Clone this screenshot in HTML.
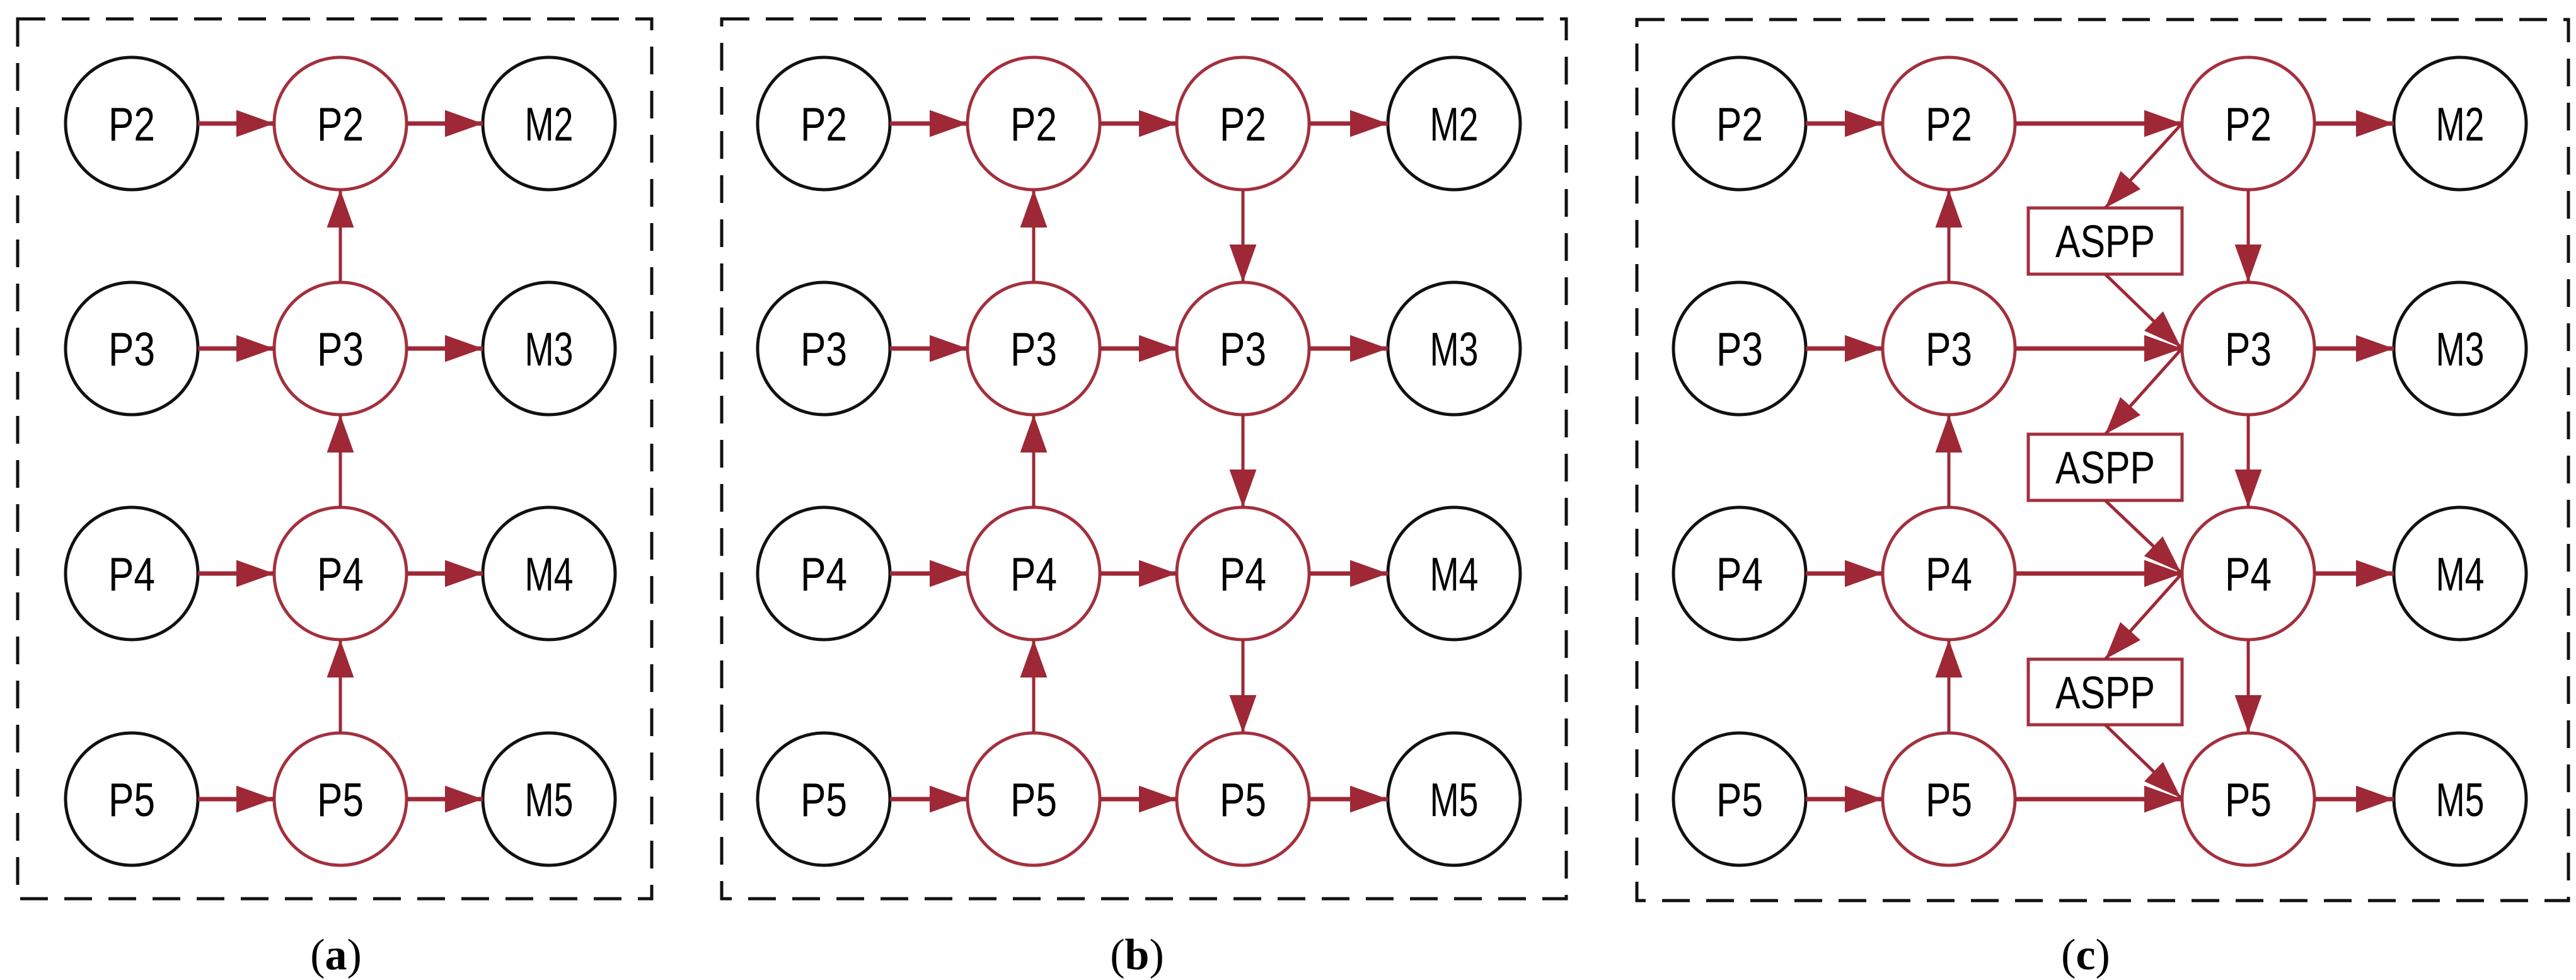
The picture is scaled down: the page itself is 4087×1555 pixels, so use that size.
<!DOCTYPE html>
<html><head><meta charset="utf-8"><style>html,body{margin:0;padding:0;background:#fff}svg{display:block}</style></head>
<body>
<svg width="4087" height="1555" viewBox="0 0 4087 1555" xmlns="http://www.w3.org/2000/svg">
<defs>
<marker id="ah" markerUnits="userSpaceOnUse" markerWidth="60" markerHeight="44" viewBox="0 0 56 40" refX="56" refY="20" orient="auto">
<path d="M0,0 L56,20 L0,40 Z" fill="#9e2836"/>
</marker>
</defs>
<g fill="none" stroke="#111" stroke-width="5" stroke-dasharray="44 26">
<rect x="28" y="30" width="1006" height="1396"/>
<rect x="1145" y="30" width="1340" height="1396"/>
<rect x="2597" y="31" width="1478" height="1398"/>
</g>
<g fill="#fff" stroke-width="5">
<g stroke="#111">
<circle cx="209" cy="196" r="105"/><circle cx="209" cy="553" r="105"/><circle cx="209" cy="910" r="105"/><circle cx="209" cy="1268" r="105"/>
<circle cx="871" cy="196" r="105"/><circle cx="871" cy="553" r="105"/><circle cx="871" cy="910" r="105"/><circle cx="871" cy="1268" r="105"/>
<circle cx="1307" cy="196" r="105"/><circle cx="1307" cy="553" r="105"/><circle cx="1307" cy="910" r="105"/><circle cx="1307" cy="1268" r="105"/>
<circle cx="2307" cy="196" r="105"/><circle cx="2307" cy="553" r="105"/><circle cx="2307" cy="910" r="105"/><circle cx="2307" cy="1268" r="105"/>
<circle cx="2760" cy="196" r="105"/><circle cx="2760" cy="553" r="105"/><circle cx="2760" cy="910" r="105"/><circle cx="2760" cy="1268" r="105"/>
<circle cx="3903" cy="196" r="105"/><circle cx="3903" cy="553" r="105"/><circle cx="3903" cy="910" r="105"/><circle cx="3903" cy="1268" r="105"/>
</g>
<g stroke="#a3303e">
<circle cx="540" cy="196" r="105"/><circle cx="540" cy="553" r="105"/><circle cx="540" cy="910" r="105"/><circle cx="540" cy="1268" r="105"/>
<circle cx="1640" cy="196" r="105"/><circle cx="1640" cy="553" r="105"/><circle cx="1640" cy="910" r="105"/><circle cx="1640" cy="1268" r="105"/>
<circle cx="1972" cy="196" r="105"/><circle cx="1972" cy="553" r="105"/><circle cx="1972" cy="910" r="105"/><circle cx="1972" cy="1268" r="105"/>
<circle cx="3092" cy="196" r="105"/><circle cx="3092" cy="553" r="105"/><circle cx="3092" cy="910" r="105"/><circle cx="3092" cy="1268" r="105"/>
<circle cx="3567" cy="196" r="105"/><circle cx="3567" cy="553" r="105"/><circle cx="3567" cy="910" r="105"/><circle cx="3567" cy="1268" r="105"/>
<rect x="3218" y="330" width="244" height="105"/>
<rect x="3218" y="689" width="244" height="105"/>
<rect x="3218" y="1046" width="244" height="104"/>
</g>
</g>
<g stroke="#9e2836" stroke-width="7" marker-end="url(#ah)">
<line x1="314" y1="196" x2="435" y2="196"/><line x1="645" y1="196" x2="766" y2="196"/>
<line x1="314" y1="553" x2="435" y2="553"/><line x1="645" y1="553" x2="766" y2="553"/>
<line x1="314" y1="910" x2="435" y2="910"/><line x1="645" y1="910" x2="766" y2="910"/>
<line x1="314" y1="1268" x2="435" y2="1268"/><line x1="645" y1="1268" x2="766" y2="1268"/>
<line x1="1412" y1="196" x2="1535" y2="196"/><line x1="1745" y1="196" x2="1867" y2="196"/><line x1="2077" y1="196" x2="2202" y2="196"/>
<line x1="1412" y1="553" x2="1535" y2="553"/><line x1="1745" y1="553" x2="1867" y2="553"/><line x1="2077" y1="553" x2="2202" y2="553"/>
<line x1="1412" y1="910" x2="1535" y2="910"/><line x1="1745" y1="910" x2="1867" y2="910"/><line x1="2077" y1="910" x2="2202" y2="910"/>
<line x1="1412" y1="1268" x2="1535" y2="1268"/><line x1="1745" y1="1268" x2="1867" y2="1268"/><line x1="2077" y1="1268" x2="2202" y2="1268"/>
<line x1="2865" y1="196" x2="2987" y2="196"/><line x1="3197" y1="196" x2="3462" y2="196"/><line x1="3672" y1="196" x2="3798" y2="196"/>
<line x1="2865" y1="553" x2="2987" y2="553"/><line x1="3197" y1="553" x2="3462" y2="553"/><line x1="3672" y1="553" x2="3798" y2="553"/>
<line x1="2865" y1="910" x2="2987" y2="910"/><line x1="3197" y1="910" x2="3462" y2="910"/><line x1="3672" y1="910" x2="3798" y2="910"/>
<line x1="2865" y1="1268" x2="2987" y2="1268"/><line x1="3197" y1="1268" x2="3462" y2="1268"/><line x1="3672" y1="1268" x2="3798" y2="1268"/>
</g>
<g stroke="#9e2836" stroke-width="5" marker-end="url(#ah)">
<line x1="540" y1="1163" x2="540" y2="1015"/><line x1="540" y1="805" x2="540" y2="658"/><line x1="540" y1="448" x2="540" y2="301"/>
<line x1="1640" y1="1163" x2="1640" y2="1015"/><line x1="1640" y1="805" x2="1640" y2="658"/><line x1="1640" y1="448" x2="1640" y2="301"/>
<line x1="1972" y1="301" x2="1972" y2="448"/><line x1="1972" y1="658" x2="1972" y2="805"/><line x1="1972" y1="1015" x2="1972" y2="1163"/>
<line x1="3092" y1="1163" x2="3092" y2="1015"/><line x1="3092" y1="805" x2="3092" y2="658"/><line x1="3092" y1="448" x2="3092" y2="301"/>
<line x1="3567" y1="301" x2="3567" y2="448"/><line x1="3567" y1="658" x2="3567" y2="805"/><line x1="3567" y1="1015" x2="3567" y2="1163"/>
<line x1="3460" y1="198" x2="3340" y2="330"/><line x1="3340" y1="435" x2="3460" y2="551"/>
<line x1="3460" y1="555" x2="3340" y2="689"/><line x1="3340" y1="794" x2="3460" y2="908"/>
<line x1="3460" y1="912" x2="3340" y2="1046"/><line x1="3340" y1="1150" x2="3460" y2="1266"/>
</g>
<g font-family="'Liberation Sans Narrow','Liberation Sans',sans-serif" font-size="75" text-anchor="middle" fill="#000" lengthAdjust="spacingAndGlyphs">
<text x="209" y="223" textLength="74" lengthAdjust="spacingAndGlyphs">P2</text><text x="540" y="223" textLength="74" lengthAdjust="spacingAndGlyphs">P2</text><text x="871" y="223" textLength="77" lengthAdjust="spacingAndGlyphs">M2</text>
<text x="209" y="580" textLength="74" lengthAdjust="spacingAndGlyphs">P3</text><text x="540" y="580" textLength="74" lengthAdjust="spacingAndGlyphs">P3</text><text x="871" y="580" textLength="77" lengthAdjust="spacingAndGlyphs">M3</text>
<text x="209" y="937" textLength="74" lengthAdjust="spacingAndGlyphs">P4</text><text x="540" y="937" textLength="74" lengthAdjust="spacingAndGlyphs">P4</text><text x="871" y="937" textLength="77" lengthAdjust="spacingAndGlyphs">M4</text>
<text x="209" y="1295" textLength="74" lengthAdjust="spacingAndGlyphs">P5</text><text x="540" y="1295" textLength="74" lengthAdjust="spacingAndGlyphs">P5</text><text x="871" y="1295" textLength="77" lengthAdjust="spacingAndGlyphs">M5</text>
<text x="1307" y="223" textLength="74" lengthAdjust="spacingAndGlyphs">P2</text><text x="1640" y="223" textLength="74" lengthAdjust="spacingAndGlyphs">P2</text><text x="1972" y="223" textLength="74" lengthAdjust="spacingAndGlyphs">P2</text><text x="2307" y="223" textLength="77" lengthAdjust="spacingAndGlyphs">M2</text>
<text x="1307" y="580" textLength="74" lengthAdjust="spacingAndGlyphs">P3</text><text x="1640" y="580" textLength="74" lengthAdjust="spacingAndGlyphs">P3</text><text x="1972" y="580" textLength="74" lengthAdjust="spacingAndGlyphs">P3</text><text x="2307" y="580" textLength="77" lengthAdjust="spacingAndGlyphs">M3</text>
<text x="1307" y="937" textLength="74" lengthAdjust="spacingAndGlyphs">P4</text><text x="1640" y="937" textLength="74" lengthAdjust="spacingAndGlyphs">P4</text><text x="1972" y="937" textLength="74" lengthAdjust="spacingAndGlyphs">P4</text><text x="2307" y="937" textLength="77" lengthAdjust="spacingAndGlyphs">M4</text>
<text x="1307" y="1295" textLength="74" lengthAdjust="spacingAndGlyphs">P5</text><text x="1640" y="1295" textLength="74" lengthAdjust="spacingAndGlyphs">P5</text><text x="1972" y="1295" textLength="74" lengthAdjust="spacingAndGlyphs">P5</text><text x="2307" y="1295" textLength="77" lengthAdjust="spacingAndGlyphs">M5</text>
<text x="2760" y="223" textLength="74" lengthAdjust="spacingAndGlyphs">P2</text><text x="3092" y="223" textLength="74" lengthAdjust="spacingAndGlyphs">P2</text><text x="3567" y="223" textLength="74" lengthAdjust="spacingAndGlyphs">P2</text><text x="3903" y="223" textLength="77" lengthAdjust="spacingAndGlyphs">M2</text>
<text x="2760" y="580" textLength="74" lengthAdjust="spacingAndGlyphs">P3</text><text x="3092" y="580" textLength="74" lengthAdjust="spacingAndGlyphs">P3</text><text x="3567" y="580" textLength="74" lengthAdjust="spacingAndGlyphs">P3</text><text x="3903" y="580" textLength="77" lengthAdjust="spacingAndGlyphs">M3</text>
<text x="2760" y="937" textLength="74" lengthAdjust="spacingAndGlyphs">P4</text><text x="3092" y="937" textLength="74" lengthAdjust="spacingAndGlyphs">P4</text><text x="3567" y="937" textLength="74" lengthAdjust="spacingAndGlyphs">P4</text><text x="3903" y="937" textLength="77" lengthAdjust="spacingAndGlyphs">M4</text>
<text x="2760" y="1295" textLength="74" lengthAdjust="spacingAndGlyphs">P5</text><text x="3092" y="1295" textLength="74" lengthAdjust="spacingAndGlyphs">P5</text><text x="3567" y="1295" textLength="74" lengthAdjust="spacingAndGlyphs">P5</text><text x="3903" y="1295" textLength="77" lengthAdjust="spacingAndGlyphs">M5</text>
<text x="3340" y="408" font-size="72" textLength="158" lengthAdjust="spacingAndGlyphs">ASPP</text>
<text x="3340" y="767" font-size="72" textLength="158" lengthAdjust="spacingAndGlyphs">ASPP</text>
<text x="3340" y="1124" font-size="72" textLength="158" lengthAdjust="spacingAndGlyphs">ASPP</text>
</g>
<g font-family="'Liberation Serif',serif" font-size="70" text-anchor="middle" fill="#000">
<text x="533" y="1538">(<tspan font-weight="bold">a</tspan>)</text>
<text x="1804" y="1538">(<tspan font-weight="bold">b</tspan>)</text>
<text x="3309" y="1538">(<tspan font-weight="bold">c</tspan>)</text>
</g>
</svg>
</body></html>
